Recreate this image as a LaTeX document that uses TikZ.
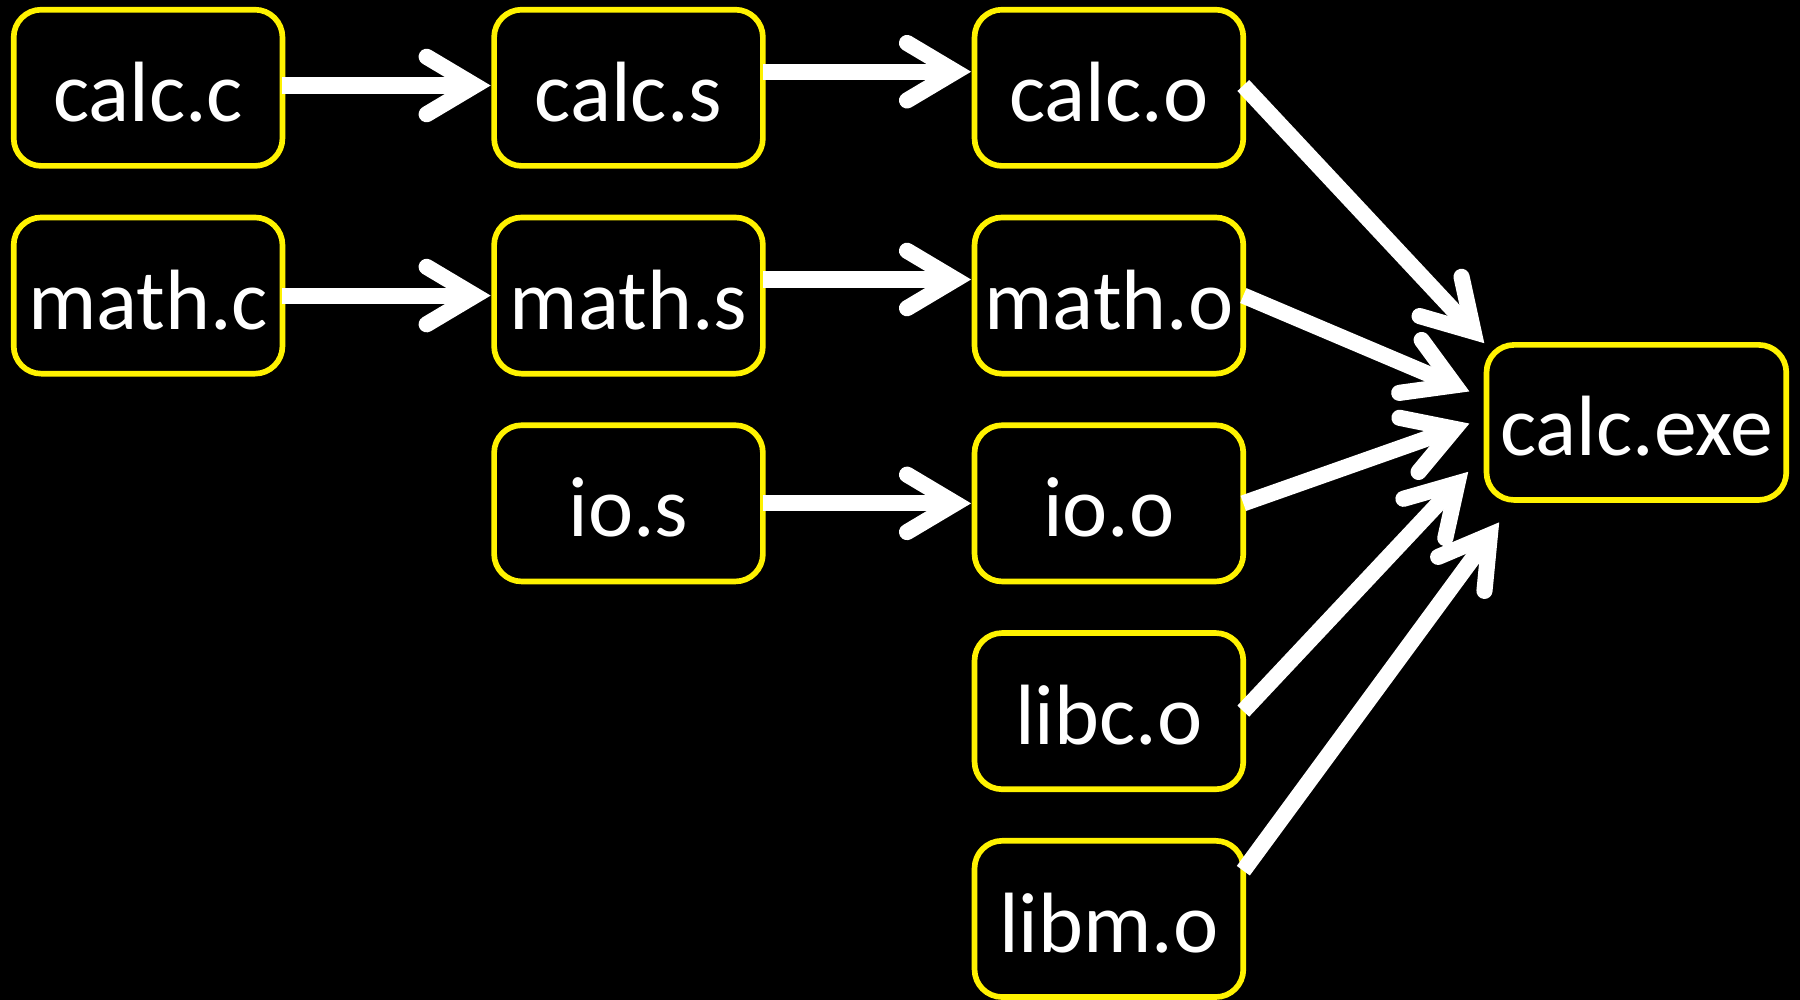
\documentclass[tikz,border=0pt]{standalone}
\usepackage{fontspec}
\setmainfont{Carlito}
\usetikzlibrary{arrows.meta,calc}

\tikzset{
  file/.style={draw=yellow,line width=1.4pt,rounded corners=0.24cm,fill=black,text=white,
    minimum width=2.34cm,minimum height=1.36cm,inner sep=0pt,outer sep=0pt,
    text height=16.6pt,text depth=0pt,
    font=\fontsize{21.2pt}{25pt}\selectfont},
  link/.style={draw=white,line width=4pt,
    -{Straight Barb[length=4.2mm,width=5mm,line cap=round,line join=miter]}}
}

\begin{document}
\begin{tikzpicture}[x=0.01cm,y=-0.01cm]
  \fill[black] (0,0) rectangle (1568,871);
  \useasboundingbox (0,0) rectangle (1568,871);
  % Define the source, assembly and object files
  \path (129,76.5) node[file] (cc) {calc.c};
  \path (129,257.5) node[file] (mc) {math.c};
  \path (547.5,76.5) node[file] (cs) {calc.s};
  \path (547.5,257.5) node[file] (ms) {math.s};
  \path (547.5,438.5) node[file] (is) {io.s};
  \path (966,76.5) node[file] (co) {calc.o};
  \path (966,257.5) node[file] (mo) {math.o};
  \path (966,438.5) node[file] (io) {io.o};
  \path (966,619.5) node[file] (lc) {libc.o};
  \path (966,800.5) node[file] (lm) {libm.o};
  \path (1425.5,368) node[file,minimum width=2.61cm,minimum height=1.35cm] (exe) {calc.exe};
  % Where the linker arrows end
  \coordinate (t1) at (1293,299);
  \coordinate (t2) at (1280,341);
  \coordinate (t3) at (1280,369);
  \coordinate (t4) at (1279,411);
  \coordinate (t5) at (1306,455);
  % Compile and assemble
  \draw[link] ([yshift=0.02cm]cc.east) -- ([xshift=-0.03cm,yshift=0.02cm]cs.west);
  \draw[link] ([yshift=0.14cm]cs.east) -- ([xshift=-0.03cm,yshift=0.14cm]co.west);
  \draw[link] (mc.east) -- ([xshift=-0.03cm]ms.west);
  \draw[link] ([yshift=0.14cm]ms.east) -- ([xshift=-0.03cm,yshift=0.14cm]mo.west);
  \draw[link] (is.east) -- ([xshift=-0.03cm]io.west);
  % Link
  \draw[link] ([yshift=0.02cm]co.east) -- (t1);
  \draw[link] (mo.east) -- (t2);
  \draw[link] (io.east) -- (t3);
  \draw[link] (lc.east) -- (t4);
  \draw[link] ($(lm.east)+(0,-42)$) -- (t5);
\end{tikzpicture}
\end{document}
